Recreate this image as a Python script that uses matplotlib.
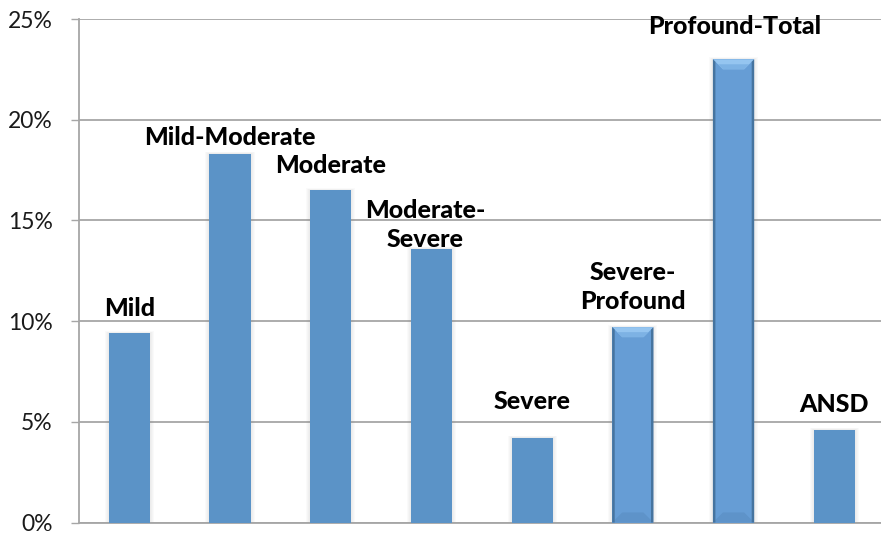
import matplotlib
matplotlib.use("Agg")
import matplotlib.pyplot as plt
from matplotlib.patches import Rectangle, Polygon
from matplotlib.ticker import FuncFormatter

# Distribution of hearing-loss categories (share of cases, %)
categories = ["Mild", "Mild-Moderate", "Moderate", "Moderate-\nSevere",
              "Severe", "Severe-\nProfound", "Profound-Total", "ANSD"]
percent = [9.4, 18.3, 16.5, 13.6, 4.2, 9.7, 23.0, 4.6]
beveled = ["Severe-\nProfound", "Profound-Total"]
y_ticks = [0, 5, 10, 15, 20, 25]

# label placement relative to the top of each bar (pixels)
label_offsets = [(0, 17), (0, 9), (0, 17), (-6, 2), (0, 29), (0, 18), (1, 25), (0, 18)]

W, H = 881, 541
fig = plt.figure(figsize=(W / 100, H / 100), dpi=100)
ax = fig.add_axes([79 / W, 18.5 / H, 805.6 / W, 503.5 / H])

grid_c = "#a6a6a6"
bar_c = "#5b93c7"
bevel_c = "#669dd5"
edge_c = "#3f6b99"
font = ["Lato", "DejaVu Sans"]

ax.set_xlim(-0.5, len(categories) - 0.5)
ax.set_ylim(0, 25)

# pixel -> data conversions
px_x = len(categories) / 805.6
px_y = 25 / 503.5

width = 0.41
x = list(range(len(categories)))

# soft halo behind each bar
for xi, v in zip(x, percent):
    for k in range(1, 5):
        ax.add_patch(Rectangle((xi - width / 2 - k * px_x, 0), width + 2 * k * px_x,
                               v + k * px_y * 0.5, facecolor="#808080", alpha=0.035,
                               edgecolor="none", zorder=2))

for xi, v, name in zip(x, percent, categories):
    if name in beveled:
        ax.bar(xi, v, width=width, color=bevel_c, edgecolor="none", zorder=3)
        x0, x1 = xi - width / 2, xi + width / 2
        bx, by = 10 * px_x, 10 * px_y
        # lit top facet
        ax.add_patch(Polygon([(x0, v), (x1, v), (x1 - bx, v - by), (x0 + bx, v - by)],
                             closed=True, facecolor="#95c5f0", edgecolor="none", zorder=4))
        ax.add_patch(Polygon([(x0 + bx * 0.5, v - by * 0.5), (x1 - bx * 0.5, v - by * 0.5),
                              (x1 - bx, v - by), (x0 + bx, v - by)],
                             closed=True, facecolor="#7db2e4", edgecolor="none", zorder=4))
        # shaded side and bottom facets
        ax.add_patch(Polygon([(x0, 0), (x1, 0), (x1 - bx, by), (x0 + bx, by)],
                             closed=True, facecolor="#5e93c9", edgecolor="none", zorder=4))
        sx = 2.5 * px_x
        ax.add_patch(Polygon([(x0, v), (x0 + sx, v - sx / px_x * px_y), (x0 + sx, 0), (x0, 0)],
                             closed=True, facecolor="#46749f", edgecolor="none", zorder=5))
        ax.add_patch(Polygon([(x1, v), (x1 - sx, v - sx / px_x * px_y), (x1 - sx, 0), (x1, 0)],
                             closed=True, facecolor="#46749f", edgecolor="none", zorder=5))
    else:
        ax.bar(xi, v, width=width, color=bar_c, edgecolor="none", zorder=3)

for xi, v, name, (dx, dy) in zip(x, percent, categories, label_offsets):
    ax.annotate(name, xy=(xi, v), xytext=(dx, dy), textcoords="offset pixels",
                ha="center", va="baseline", multialignment="center",
                fontsize=18, fontweight="black", family=font, color="black",
                linespacing=1.3, zorder=6)

# axes styling
ax.set_yticks(y_ticks)
ax.yaxis.set_major_formatter(FuncFormatter(lambda v, _: f"{v:.0f}%"))
ax.set_xticks([])
ax.yaxis.grid(True, color=grid_c, linewidth=1.3, zorder=0)
ax.set_axisbelow(True)
for s in ("top", "right"):
    ax.spines[s].set_visible(False)
for s in ("left", "bottom"):
    ax.spines[s].set_color(grid_c)
    ax.spines[s].set_linewidth(1.3)
ax.tick_params(axis="y", direction="out", length=6, width=1.0, color=grid_c,
               pad=13, labelsize=16.5, labelcolor="#1a1a1a")
for lab in ax.get_yticklabels():
    lab.set_family(font)

fig.savefig("out.png", dpi=100)
